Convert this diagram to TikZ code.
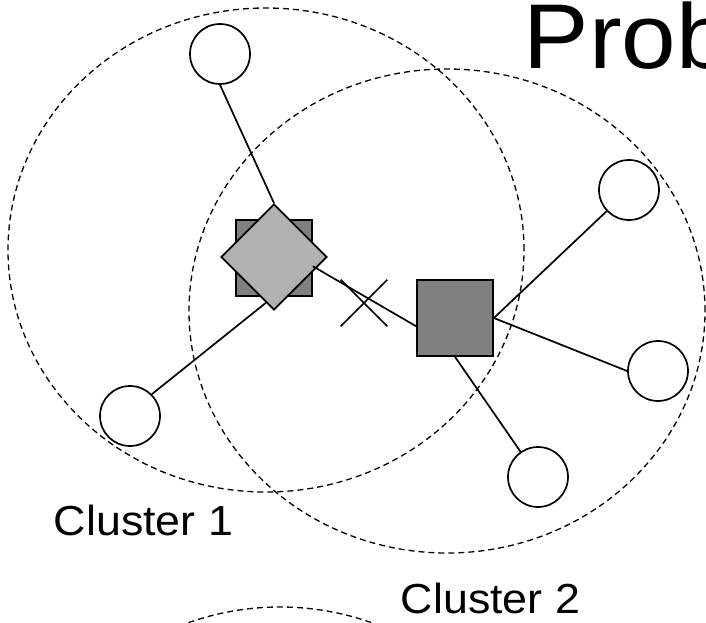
\documentclass[tikz,border=0pt]{standalone}
\usepackage{fontspec}
\setmainfont{Liberation Sans}
\usetikzlibrary{shapes,backgrounds}
\tikzset{
member/.style={circle, draw, fill=white, inner sep=0pt, minimum size=60pt}, % plain nodes of a cluster
head/.style={rectangle, draw, fill=gray, inner sep=0pt, minimum size=76pt}, % cluster heads
gateway/.style={diamond, draw, fill=black!30, inner sep=0pt, minimum size=106pt}, % the shared gateway
}

\begin{document}
\begin{tikzpicture}[x=1pt, y=-1pt, line width=1.7pt,
	cluster/.style={ellipse, draw, line width=1.3pt, dash pattern=on 6pt off 4pt, minimum width=516pt, minimum height=484pt},
	clustername/.style={anchor=base west, inner sep=0pt, xscale=1.066, font=\fontsize{42}{42}\selectfont}]
\useasboundingbox (0,0) rectangle (706,623);
\clip (0,0) rectangle (706,623);
\node[head] (h1) at (274,258) {};
\node[gateway] (gw) at (274,257) {};
\node[head] (h2) at (455,318) {};
\node[member] (m1) at (220,54) {};
\node[member] (m2) at (130,416) {};
\node[member] (m3) at (629,190) {};
\node[member] (m4) at (658,371) {};
\node[member] (m5) at (538,477) {};
\node[cross out, draw, inner sep=0pt, minimum size=45pt] (cut) at (364,303) {};
\draw (m1.south) -- (gw.north)
(m2.45) -- (gw.-100)
(h1.-12) -- (h2.192)
(h2.east) -- (m3)
(h2.east) -- (m4.west)
(h2.south) -- (m5);
\node[clustername] (n1) at (53,535) {Cluster 1};
\node[clustername] (n2) at (400,613) {Cluster 2};
\node[anchor=base west, inner sep=0pt, xscale=1.066, font=\fontsize{92}{92}\selectfont] (title) at (523,69) {Prob};
\begin{pgfonlayer}{background}
\node[cluster] (c1) at (266,250) {};
\node[cluster] (c2) at (447,311) {};
\node[cluster] (c3) at (280,849) {};
\end{pgfonlayer}
\end{tikzpicture}
\end{document}
